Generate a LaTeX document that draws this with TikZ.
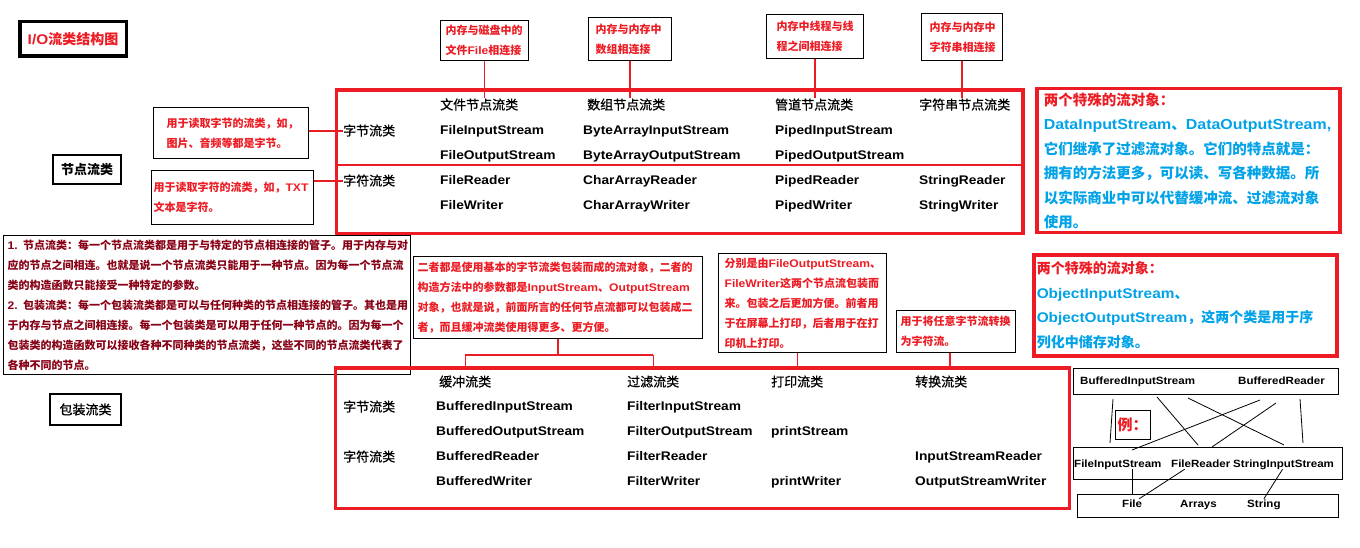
\documentclass[tikz,border=0pt]{standalone}
\usepackage{fontspec}
\setmainfont{Noto Sans CJK SC}
\newfontfamily\lat{Liberation Sans}[FakeStretch=1.1]
\newfontfamily\cjkhead{Noto Sans CJK SC}[FakeBold=0.8]
\usetikzlibrary{calc}

\definecolor{ioRed}{RGB}{237,28,36}
\definecolor{ioBlue}{RGB}{0,162,232}
\definecolor{ioDark}{RGB}{136,0,21}
\newcommand{\en}[1]{{\lat\bfseries #1}}

\tikzset{
  callout/.style={draw=black, line width=1.2pt, anchor=north west, align=left,
    inner ysep=0pt, text=ioRed, font=\fontsize{11}{20}\selectfont\bfseries},
  bigframe/.style={draw=ioRed, line width=3.5pt, anchor=north west, inner sep=0pt},
  special/.style={bigframe, align=left, text=ioBlue, inner ysep=0pt},
  head/.style={anchor=west, inner sep=0pt, text height=11pt, text depth=2pt,
    font=\fontsize{13}{14}\selectfont\cjkhead},
  cell/.style={anchor=west, inner sep=0pt, text height=9.5pt, text depth=2.5pt,
    font=\fontsize{12.5}{14}\selectfont\lat\bfseries},
  link/.style={draw=ioRed, line width=1.3pt},
  exbox/.style={draw=black, line width=1pt, anchor=north west, inner sep=0pt},
  exword/.style={anchor=west, inner sep=0pt, text height=8pt, text depth=2pt,
    font=\fontsize{10.5}{12}\selectfont\lat\bfseries},
  exline/.style={draw=black, line width=0.8pt}
}

\begin{document}
\begin{tikzpicture}[x=1pt, y=-1pt]
\useasboundingbox[fill=white] (0,0) rectangle (1360,548);

% titulo
\node[draw, line width=3.5pt, minimum width=106.5, minimum height=34.5, text=ioRed,
  font=\fontsize{14}{16}\selectfont\bfseries] (title) at (73,39) {\en{I/O}流类结构图};

% cajas de la izquierda
\node[draw, line width=1.2pt, minimum width=68, minimum height=29,
  font=\fontsize{13}{14}\selectfont\bfseries] (nodeStream) at (87,169.5) {节点流类};
\node[draw, line width=1.2pt, minimum width=71, minimum height=31,
  font=\fontsize{13}{14}\selectfont\cjkhead] (wrapStream) at (85.5,409.5) {包装流类};

% notas sobre la tabla de nodos
\node[callout, minimum width=88, minimum height=40, inner xsep=5pt, text width=78]
  (memFile) at (440,20) {内存与磁盘中的\\文件\en{File}相连接};
\node[callout, minimum width=83, minimum height=43, inner xsep=7pt, text width=69]
  (memArray) at (588,17) {内存与内存中\\数组相连接};
\node[callout, minimum width=97, minimum height=44, inner xsep=10pt, text width=77]
  (memPipe) at (766,14) {内存中线程与线\\程之间相连接};
\node[callout, minimum width=81, minimum height=47, inner xsep=8pt, text width=65]
  (memString) at (921,13) {内存与内存中\\字符串相连接};
\node[callout, minimum width=155, minimum height=51, inner xsep=13pt, text width=129]
  (readByte) at (153,107) {用于读取字节的流类，如，\\图片、音频等都是字节。};
\node[callout, minimum width=162, minimum height=54, inner xsep=2pt, text width=158]
  (readChar) at (151,170) {用于读取字符的流类，如，\en{TXT}\\文本是字符。};

% tabla de flujos de nodo
\node[bigframe, minimum width=686.5, minimum height=143.5] (nodeTable) at (334.5,88.5) {};
\coordinate (midRow) at (0,165);
\draw[link] (nodeTable.west |- midRow) -- (nodeTable.east |- midRow);
\node[head] (hFile) at (440,105) {文件节点流类};
\node[head] (hArray) at (587,105) {数组节点流类};
\node[head] (hPipe) at (775,105) {管道节点流类};
\node[head] (hString) at (919,105) {字符串节点流类};
\node[head] (rByte) at (343,131) {字节流类};
\node[head] (rChar) at (343,181) {字符流类};
\foreach \t [count=\i] in {FileInputStream, FileOutputStream, FileReader, FileWriter}
  \node[cell] (file\i) at (440,106+25*\i) {\t};
\foreach \t [count=\i] in {ByteArrayInputStream, ByteArrayOutputStream, CharArrayReader, CharArrayWriter}
  \node[cell] (array\i) at (583,106+25*\i) {\t};
\foreach \t [count=\i] in {PipedInputStream, PipedOutputStream, PipedReader, PipedWriter}
  \node[cell] (pipe\i) at (775,106+25*\i) {\t};
\node[cell] (string3) at (919,181) {StringReader};
\node[cell] (string4) at (919,206) {StringWriter};

\draw[link] (memFile.south) -- (memFile.south |- hFile.north);
\draw[link] (memArray.south) -- (memArray.south |- hArray.north);
\draw[link] (memPipe.south) -- (memPipe.south |- hPipe.north);
\draw[link] (memString.south) -- (memString.south |- hString.north);
\draw[link] (readByte.east |- rByte.west) -- (rByte.west);
\draw[link] (readChar.east |- rChar.west) -- (rChar.west);

% flujos especiales
\node[special, minimum width=303, minimum height=144, inner xsep=7pt, text width=289,
  font=\fontsize{14.5}{24.5}\selectfont\bfseries] (dataBox) at (1035,87)
  {{\color{ioRed}两个特殊的流对象：}\\
   \en{DataInputStream}、\en{DataOutputStream,}\\
   它们继承了过滤流对象。它们的特点就是：\\
   拥有的方法更多，可以读、写各种数据。所\\
   以实际商业中可以代替缓冲流、过滤流对象\\
   使用。};
\node[special, minimum width=303, minimum height=101, inner xsep=3pt, text width=297,
  font=\fontsize{14}{24.5}\selectfont\bfseries] (objectBox) at (1032,253)
  {{\color{ioRed}两个特殊的流对象：}\\
   \en{ObjectInputStream}、\\
   \en{ObjectOutputStream}，这两个类是用于序\\
   列化中储存对象。};

% explicacion general
\node[callout, text=ioDark, minimum width=407, minimum height=139, inner xsep=4pt, text width=399]
  (summary) at (3,235)
  {\en{1.} 节点流类：每一个节点流类都是用于与特定的节点相连接的管子。用于内存与对\\
   应的节点之间相连。也就是说一个节点流类只能用于一种节点。因为每一个节点流\\
   类的构造函数只能接受一种特定的参数。\\
   \en{2.} 包装流类：每一个包装流类都是可以与任何种类的节点相连接的管子。其也是用\\
   于内存与节点之间相连接。每一个包装类是可以用于任何一种节点的。因为每一个\\
   包装类的构造函数可以接收各种不同种类的节点流类，这些不同的节点流类代表了\\
   各种不同的节点。};

% notas sobre la tabla de envoltorios
\node[callout, minimum width=289, minimum height=82, inner xsep=4pt, text width=281]
  (wrapNote) at (413,256)
  {二者都是使用基本的字节流类包装而成的流对象，二者的\\
   构造方法中的参数都是\en{InputStream}、\en{OutputStream}\\
   对象，也就是说，前面所言的任何节点流都可以包装成二\\
   者，而且缓冲流类使用得更多、更方便。};
\node[callout, minimum width=168, minimum height=99, inner xsep=6pt, text width=156]
  (printNote) at (718,253)
  {分别是由\en{FileOutputStream}、\\
   \en{FileWriter}这两个节点流包装而\\
   来。包装之后更加方便。前者用\\
   于在屏幕上打印，后者用于在打\\
   印机上打印。};
\node[callout, minimum width=119, minimum height=42, inner xsep=4pt, text width=111]
  (convNote) at (896,310) {用于将任意字节流转换\\为字符流。};

% tabla de flujos de envoltorio
\node[bigframe, minimum width=734, minimum height=140.5] (wrapTable) at (333.5,366) {};
\node[head] (hBuf) at (439,382) {缓冲流类};
\node[head] (hFilter) at (627,382) {过滤流类};
\node[head] (hPrint) at (771,382) {打印流类};
\node[head] (hConv) at (915,382) {转换流类};
\node[head] (wByte) at (343,407) {字节流类};
\node[head] (wChar) at (343,457) {字符流类};
\foreach \t [count=\i] in {BufferedInputStream, BufferedOutputStream, BufferedReader, BufferedWriter}
  \node[cell] (buf\i) at (436,382+25*\i) {\t};
\foreach \t [count=\i] in {FilterInputStream, FilterOutputStream, FilterReader, FilterWriter}
  \node[cell] (filter\i) at (627,382+25*\i) {\t};
\node[cell] (print2) at (771,432) {printStream};
\node[cell] (print4) at (771,482) {printWriter};
\node[cell] (conv3) at (915,457) {InputStreamReader};
\node[cell] (conv4) at (915,482) {OutputStreamWriter};

\coordinate (fork) at (0,355);
\draw[link] (wrapNote.south) -- (wrapNote.south |- fork);
\draw[link] (hBuf.north |- fork) -- (hFilter.north |- fork);
\draw[link] (hBuf.north |- fork) -- (hBuf.north |- wrapTable.north);
\draw[link] (hFilter.north |- fork) -- (hFilter.north |- wrapTable.north);
\draw[link] (hPrint.north |- printNote.south) -- (hPrint.north |- wrapTable.north);
\draw[link] ([xshift=-6pt]convNote.south) -- ([xshift=-6pt]convNote.south |- wrapTable.north);

% ejemplo
\node[exbox, minimum width=265, minimum height=26] (exTop) at (1073,368) {};
\node[exbox, minimum width=269, minimum height=32] (exMid) at (1073,447) {};
\node[exbox, minimum width=261, minimum height=23] (exBot) at (1077,494) {};
\node[exbox, minimum width=35, minimum height=29, anchor=center, text=ioRed,
  font=\fontsize{15}{16}\selectfont\bfseries] (exSample) at (1132.5,424.5) {例：};
\node[exword] (exBis) at (1080,381) {BufferedInputStream};
\node[exword] (exBr) at (1238,381) {BufferedReader};
\node[exword] (exFis) at (1074,464) {FileInputStream};
\node[exword] (exFr) at (1171,464) {FileReader};
\node[exword] (exSis) at (1233,464) {StringInputStream};
\node[exword] (exFile) at (1122,504) {File};
\node[exword] (exArr) at (1180,504) {Arrays};
\node[exword] (exStr) at (1247,504) {String};

\draw[exline] ([shift={(40,4)}]exTop.south west) -- ([shift={(37,-4)}]exMid.north west);
\draw[exline] ([shift={(84,2)}]exTop.south west) -- ([shift={(125,-2)}]exMid.north west);
\draw[exline] ([shift={(115,3)}]exTop.south west) -- ([shift={(211,-2)}]exMid.north west);
\draw[exline] ([shift={(187,5)}]exTop.south west) -- ([shift={(59,3)}]exMid.north west);
\draw[exline] ([shift={(203,8)}]exTop.south west) -- ([shift={(139,0)}]exMid.north west);
\draw[exline] ([shift={(227,4)}]exTop.south west) -- ([shift={(230,-4)}]exMid.north west);
\draw[exline] (exFile.north |- exFis.south) -- (exFile.north |- exBot.north);
\draw[exline] ([xshift=-16pt]exFr.south) -- ([xshift=7pt]exFile.north);
\draw[exline] ([xshift=-1pt]exSis.south) -- (exStr.north);
\end{tikzpicture}
\end{document}
